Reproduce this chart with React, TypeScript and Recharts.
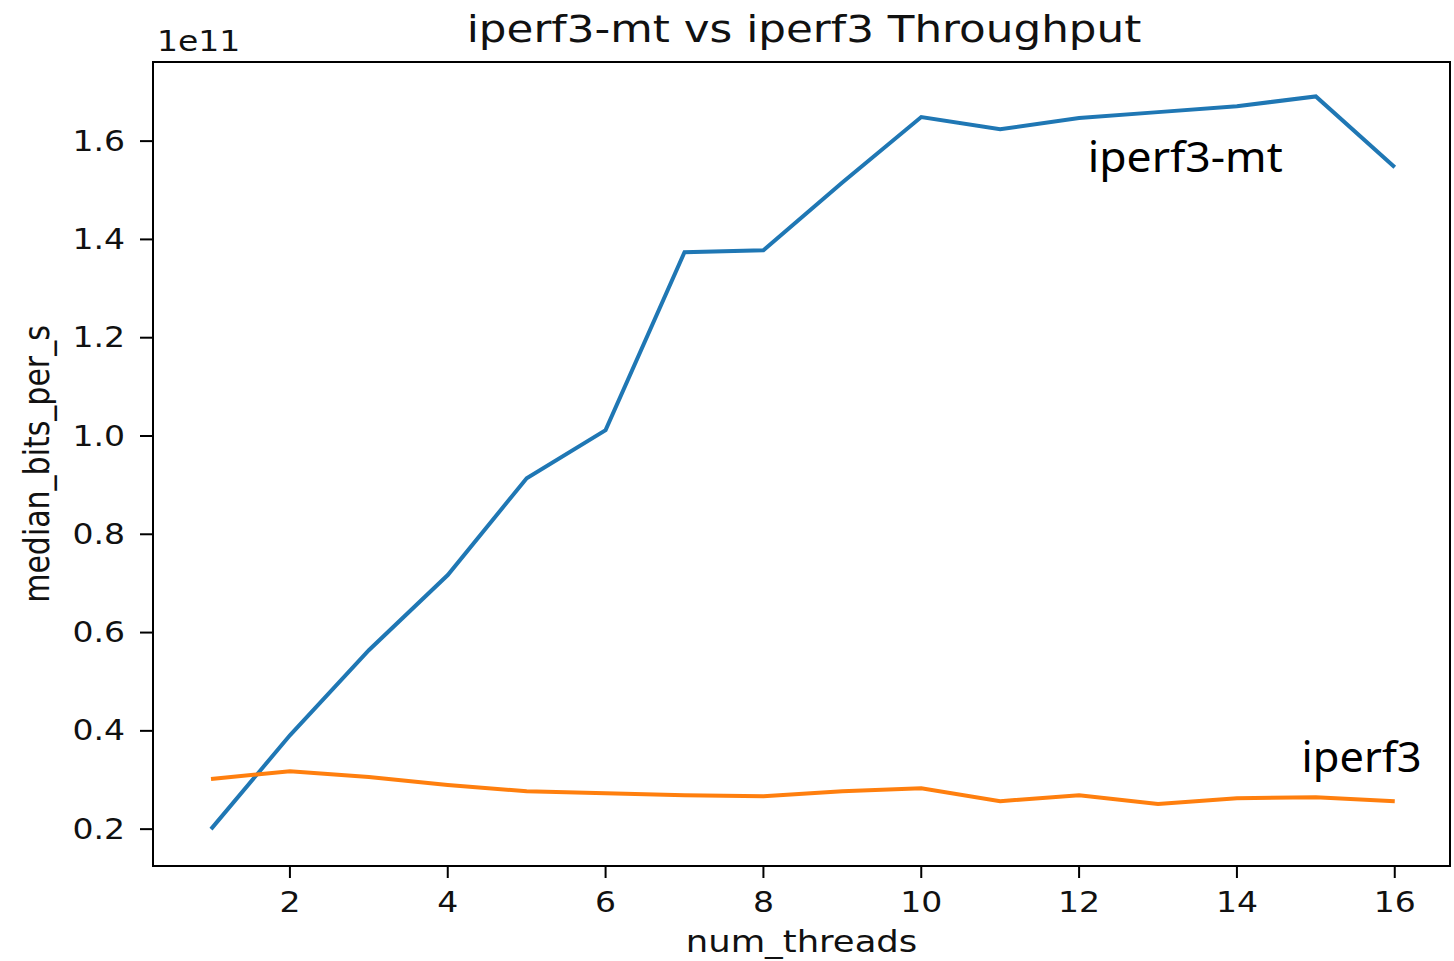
import { LineChart, Line, XAxis, YAxis, ReferenceArea, ReferenceDot } from 'recharts';

// num_threads on the x axis
const threads = [1, 2, 3, 4, 5, 6, 7, 8, 9, 10, 11, 12, 13, 14, 15, 16];
// median bits per second
const mtBits = [
  20.0e9, 39.1e9, 56.4e9, 71.7e9, 91.4e9, 101.2e9, 137.4e9, 137.8e9,
  151.6e9, 164.9e9, 162.4e9, 164.7e9, 165.9e9, 167.1e9, 169.1e9, 154.7e9,
];
const stBits = [
  30.2e9, 31.8e9, 30.6e9, 29.0e9, 27.7e9, 27.3e9, 26.9e9, 26.7e9,
  27.7e9, 28.3e9, 25.7e9, 26.9e9, 25.1e9, 26.3e9, 26.5e9, 25.7e9,
];
const xTicks = [2, 4, 6, 8, 10, 12, 14, 16];
const yTicks = [0.2e11, 0.4e11, 0.6e11, 0.8e11, 1.0e11, 1.2e11, 1.4e11, 1.6e11];

// overlay text labels, anchored in data space
const notes = [
  { text: 'iperf3-mt', x: 12.11, y: 1.537e11, len: 195 },
  { text: 'iperf3', x: 14.82, y: 0.316e11, len: 120 },
];

const data = threads.map((t, i) => ({ t, mt: mtBits[i], st: stBits[i] }));

const MPL = '"DejaVu Sans", sans-serif';
const STRETCH = 1.18;
const INK = '#111';

function YTick(props: any) {
  const { x, y, payload } = props;
  return (
    <text
      transform={`translate(${x},${y}) scale(${STRETCH},1)`}
      textAnchor="end"
      dominantBaseline="central"
      fontFamily={MPL}
      fontSize={28}
      fill={INK}
    >
      {(payload.value / 1e11).toFixed(1)}
    </text>
  );
}

function XTick(props: any) {
  const { x, y, payload } = props;
  return (
    <text
      transform={`translate(${x},${y}) scale(${STRETCH},1)`}
      textAnchor="middle"
      dy="0.71em"
      fontFamily={MPL}
      fontSize={28}
      fill={INK}
    >
      {payload.value}
    </text>
  );
}

function NoteLabel({ viewBox, text, len }: any) {
  if (!viewBox) return null;
  return (
    <text
      x={viewBox.x}
      y={viewBox.y}
      fontFamily='"Noto Sans", sans-serif'
      fontSize={41}
      textLength={len}
      lengthAdjust="spacingAndGlyphs"
      fill="#000"
    >
      {text}
    </text>
  );
}

export default function App() {
  return (
    <div style={{ position: 'relative', width: 1454, height: 961 }}>
      <style>{'body{margin:0}'}</style>
      <LineChart
        width={1454}
        height={961}
        data={data}
        margin={{ top: 62, right: 4, left: 0, bottom: 0 }}
      >
        <XAxis
          dataKey="t"
          type="number"
          domain={[0.265, 16.7]}
          allowDataOverflow
          ticks={xTicks}
          tick={<XTick />}
          tickSize={12}
          tickMargin={14}
          tickLine={{ stroke: '#000', strokeWidth: 2 }}
          axisLine={false}
          height={95}
          label={{
            content: (p: any) => {
              const vb = p.viewBox;
              const cx = vb.x + vb.width / 2;
              return (
                <text
                  transform={`translate(${cx},952) scale(${STRETCH},1)`}
                  textAnchor="middle"
                  fontFamily={MPL}
                  fontSize={30}
                  fill={INK}
                >
                  num_threads
                </text>
              );
            },
          }}
        />
        <YAxis
          type="number"
          domain={[0.125e11, 1.761e11]}
          allowDataOverflow
          ticks={yTicks}
          tick={<YTick />}
          tickSize={13}
          tickMargin={15}
          tickLine={{ stroke: '#000', strokeWidth: 2 }}
          axisLine={false}
          width={153}
          label={{
            content: (p: any) => {
              const vb = p.viewBox;
              const cy = vb.y + vb.height / 2;
              return (
                <text
                  transform={`translate(${vb.x + 37},${cy}) scale(${STRETCH},1) rotate(-90)`}
                  textAnchor="middle"
                  dominantBaseline="central"
                  fontFamily={MPL}
                  fontSize={30}
                  fill={INK}
                >
                  median_bits_per_s
                </text>
              );
            },
          }}
        />
        <ReferenceArea
          x1={0.265}
          x2={16.7}
          y1={0.125e11}
          y2={1.761e11}
          fill="none"
          fillOpacity={0}
          stroke="#000"
          strokeWidth={2}
          ifOverflow="visible"
        />
        <Line
          type="linear"
          dataKey="mt"
          stroke="#1f77b4"
          strokeWidth={4}
          dot={false}
          isAnimationActive={false}
        />
        <Line
          type="linear"
          dataKey="st"
          stroke="#ff7f0e"
          strokeWidth={4}
          dot={false}
          isAnimationActive={false}
        />
        {notes.map((n) => (
          <ReferenceDot
            key={n.text}
            x={n.x}
            y={n.y}
            r={0}
            fill="none"
            stroke="none"
            ifOverflow="visible"
            label={<NoteLabel text={n.text} len={n.len} />}
          />
        ))}
      </LineChart>
      <svg
        width={1454}
        height={961}
        style={{ position: 'absolute', left: 0, top: 0, pointerEvents: 'none' }}
      >
        <text
          transform={`translate(804,42) scale(${STRETCH},1)`}
          textAnchor="middle"
          fontFamily={MPL}
          fontSize={37}
          fill={INK}
        >
          iperf3-mt vs iperf3 Throughput
        </text>
        <text
          transform={`translate(157,51) scale(${STRETCH},1)`}
          fontFamily={MPL}
          fontSize={28}
          fill={INK}
        >
          1e11
        </text>
      </svg>
    </div>
  );
}
